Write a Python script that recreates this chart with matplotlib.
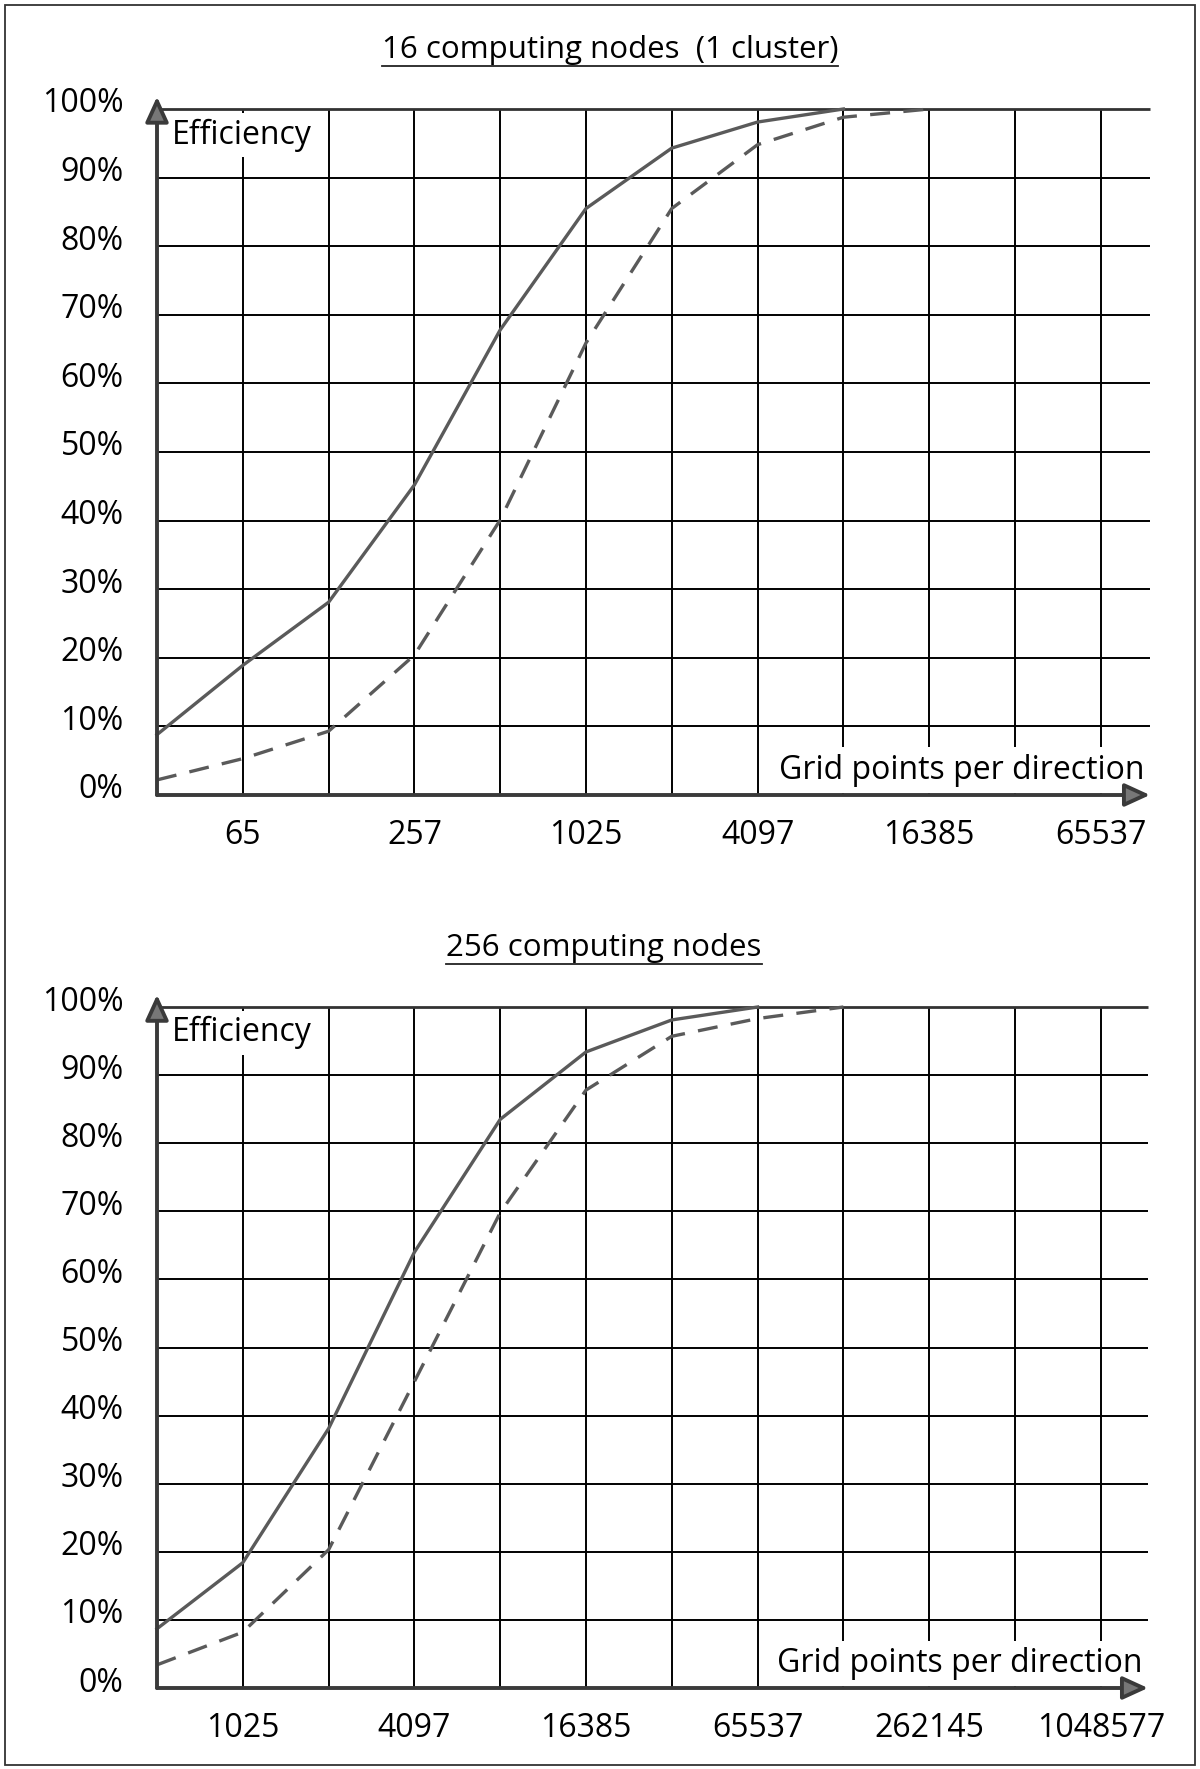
import numpy as np
import matplotlib.pyplot as plt
from matplotlib.transforms import ScaledTranslation
from matplotlib.lines import Line2D
from matplotlib.patches import Rectangle

plt.rcParams['font.family'] = ['Open Sans', 'DejaVu Sans']

W, H = 1200, 1769

# 16 computing nodes (1 cluster): grid points per direction and efficiency (%)
top_grid = [33, 65, 129, 257, 513, 1025, 2049, 4097, 8193, 16385, 32769, 65537]
top_solid = [8.8, 18.9, 28.1, 45.2, 67.8, 85.5, 94.3, 98.1, 100.0]
top_dashed = [2.2, 5.3, 9.3, 20.4, 40.1, 65.9, 85.5, 94.8, 98.8, 100.0]
top_labels = ['65', '257', '1025', '4097', '16385', '65537']

# 256 computing nodes
bot_grid = [513, 1025, 2049, 4097, 8193, 16385, 32769, 65537, 131073,
            262145, 524289, 1048577]
bot_solid = [8.7, 18.4, 38.1, 64.0, 83.5, 93.4, 98.1, 100.0]
bot_dashed = [3.4, 8.2, 20.3, 45.0, 69.8, 87.8, 95.7, 98.3, 100.0]
bot_labels = ['1025', '4097', '16385', '65537', '262145', '1048577']

eff_ticks = list(range(0, 101, 10))
eff_labels = [f'{v}%' for v in eff_ticks]

CELL = 85.8  # px per doubling of grid points
FS = 23
CURVE = '#5a5a5a'
AXIS = '#3a3a3a'


def panel(fig, left, right, top, bottom, grid, solid, dashed, labels):
    ax = fig.add_axes([left / W, 1 - bottom / H, (right - left) / W, (bottom - top) / H])
    k = np.log2(np.array(grid) - 1)
    x0 = k[0]
    xmax = x0 + (right - left) / CELL
    ax.set_xlim(x0, xmax)
    ax.set_ylim(0, 100)
    for s in ax.spines.values():
        s.set_visible(False)

    # grid
    ax.hlines(eff_ticks[1:-1], x0, xmax, color='black', lw=1.4, zorder=1)
    ax.hlines([100], x0, xmax, color='#333333', lw=2.0, zorder=2.5, clip_on=False)
    ax.vlines(k[1:], 0, 100, color='black', lw=1.4, zorder=1)

    # curves
    ax.plot(k[:len(solid)], solid, color=CURVE, lw=2.4, clip_on=False, zorder=3)
    ax.plot(k[:len(dashed)], dashed, color=CURVE, lw=2.4, dashes=(6, 4),
            clip_on=False, zorder=3)

    # axes with arrows
    head = dict(arrowstyle='-|>,head_length=0.7,head_width=0.32', lw=2.8,
                color=AXIS, fc='#777777', ec=AXIS, mutation_scale=22,
                shrinkA=0, shrinkB=0)
    ax.annotate('', xy=(x0, 101.8), xytext=(x0, 0), arrowprops=head,
                annotation_clip=False, zorder=5)
    ax.annotate('', xy=(xmax, 0), xytext=(x0, 0), arrowprops=head,
                annotation_clip=False, zorder=5)

    # tick labels
    ax.set_yticks(eff_ticks, eff_labels)
    ax.set_xticks(k[1::2], labels)
    ax.tick_params(axis='y', length=0, pad=24, labelsize=FS)
    ax.tick_params(axis='x', length=0, pad=17, labelsize=FS)
    up = ScaledTranslation(0, 9 / 100, fig.dpi_scale_trans)
    for lab in ax.get_yticklabels():
        lab.set_transform(lab.get_transform() + up)

    ax.text(x0 + 0.17, 96.2, 'Efficiency', fontsize=FS, ha='left', va='center',
            zorder=2, bbox=dict(fc='white', ec='none', boxstyle='square,pad=0.16'))
    ax.text(xmax - 0.06, 3.6, 'Grid points per direction', fontsize=FS,
            ha='right', va='center', zorder=2,
            bbox=dict(fc='white', ec='none', boxstyle='square,pad=0.2'))
    return ax


fig = plt.figure(figsize=(W / 100, H / 100), dpi=100)

panel(fig, 157, 1150, 109, 795, top_grid, top_solid, top_dashed, top_labels)
panel(fig, 157, 1148, 1007, 1688, bot_grid, bot_solid, bot_dashed, bot_labels)

titles = [('16 computing nodes  (1 cluster)', 610, 58), ('256 computing nodes', 604, 956)]
fig.canvas.draw()
renderer = fig.canvas.get_renderer()
for txt, cx, base in titles:
    t = fig.text(cx / W, 1 - base / H, txt, fontsize=22.5, ha='center', va='baseline')
    bb = t.get_window_extent(renderer)
    yl = 1 - (base + 8) / H
    fig.add_artist(Line2D([bb.x0 / W, bb.x1 / W], [yl, yl], color='#222222', lw=1.3))

# page frame
fig.add_artist(Rectangle((5 / W, 4 / H), 1 - 10 / W, 1 - 9 / H, fill=False,
                         ec='#333333', lw=1.3))

fig.savefig('out.png', dpi=100)
